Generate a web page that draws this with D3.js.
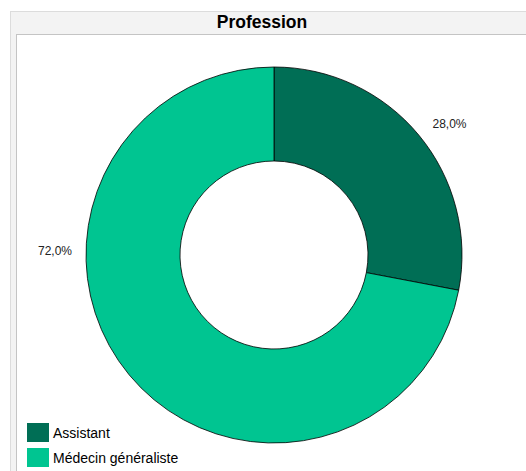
<!DOCTYPE html>
<html><head><meta charset="utf-8">
<script src="https://cdn.jsdelivr.net/npm/d3@7"></script>
<style>body{margin:0;background:#fff;}svg{display:block;font-family:"Liberation Sans",Arial,sans-serif;}</style>
</head><body>
<script>
const categories = ["Assistant", "Médecin généraliste"];
const values = [28.0, 72.0];
const labels = ["28,0%", "72,0%"];
const colors = ["#006e55", "#00c591"];
const title = "Profession";

const W = 526, H = 471;
const svg = d3.select("body").append("svg").attr("width", W).attr("height", H);

// frame
svg.append("rect").attr("x", 10).attr("y", 11).attr("width", W - 10).attr("height", H - 11).attr("fill", "#f3f3f3");
svg.append("line").attr("x1", 10).attr("x2", W).attr("y1", 11.5).attr("y2", 11.5).attr("stroke", "#dcdcdc");
svg.append("line").attr("x1", 10.5).attr("x2", 10.5).attr("y1", 11).attr("y2", H).attr("stroke", "#dcdcdc");
svg.append("rect").attr("x", 16.5).attr("y", 34.5).attr("width", W).attr("height", H).attr("fill", "#fff").attr("stroke", "#c4c4c4");

svg.append("text").attr("x", 262).attr("y", 28).attr("text-anchor", "middle")
  .attr("font-weight", "bold").attr("font-size", 17.5).attr("fill", "#000").text(title);

const cx = 274, cy = 255, R = 188, r = 94;
const pie = d3.pie().sort(null).value(d => d)(values);
const arc = d3.arc().innerRadius(r).outerRadius(R);
const g = svg.append("g").attr("transform", `translate(${cx},${cy})`);
g.selectAll("path").data(pie).join("path")
  .attr("d", arc).attr("fill", (d, i) => colors[i])
  .attr("stroke", "#000").attr("stroke-width", 0.8);

// label placement (layout only)
const labelRadius = R * 1.165;
const labelAngle = (d, i) => i === 0 ? (d.startAngle + d.endAngle) / 2 + 0.05 : -Math.PI / 2 + 0.018;
g.selectAll("text.lbl").data(pie).join("text").attr("class", "lbl")
  .attr("transform", (d, i) => {
    const a = labelAngle(d, i);
    return `translate(${Math.sin(a) * labelRadius},${-Math.cos(a) * labelRadius})`;
  })
  .attr("text-anchor", "middle").attr("dy", "0.35em")
  .attr("font-size", 12).attr("fill", "#222").text((d, i) => labels[i]);

// legend
const lg = svg.append("g").attr("transform", "translate(27,423)");
categories.forEach((c, i) => {
  lg.append("rect").attr("x", 0).attr("y", i * 25).attr("width", 22).attr("height", 19).attr("fill", colors[i]);
  lg.append("text").attr("x", 26).attr("y", i * 25 + 15).attr("font-size", 14).attr("fill", "#000").text(c);
});
</script>
</body></html>
